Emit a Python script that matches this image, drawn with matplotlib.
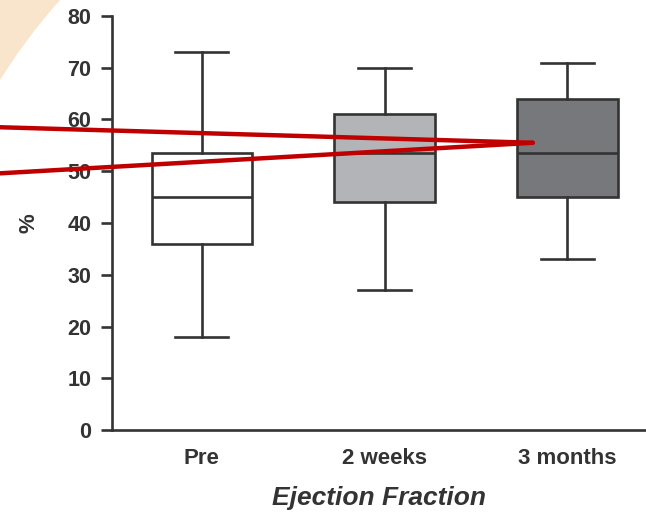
import numpy as np
import matplotlib
matplotlib.use("Agg")
import matplotlib.pyplot as plt
from matplotlib.patches import Circle, Rectangle

# box plot stats
groups = ["Pre", "2 weeks", "3 months"]
whislo = [18, 27, 33]
q1 = [36, 44, 45]
med = [45, 53.5, 53.5]
q3 = [53.5, 61, 64]
whishi = [73, 70, 71]
box_colors = ["#ffffff", "#b3b4b7", "#77787c"]

# red pointer lines (data coords): two left ends and a common tip
ptr_left_x = -0.104
ptr_left_y = [58.5, 49.6]
ptr_tip = (2.81, 55.5)

plt.rcParams['font.family'] = ['Liberation Sans', 'DejaVu Sans']
plt.rcParams['font.weight'] = 'bold'
ink = "#333333"

fig = plt.figure(figsize=(6.46, 5.15), dpi=100)

# peach corner in the top-left of the slide background
fig.patches.append(Rectangle((0, 0), 1, 1, transform=fig.transFigure,
                             facecolor="#f8e5cb", edgecolor="none", zorder=-10))
fig.patches.append(Circle((500, 515 - 392.5), 589.6, transform=None,
                          facecolor="white", edgecolor="none", zorder=-9))

ax = fig.add_axes([0.1734, 0.165, 0.8266, 0.804])
ax.set_facecolor("none")

stats = []
for i in range(len(groups)):
    stats.append({"label": groups[i], "whislo": whislo[i], "q1": q1[i], "med": med[i],
                  "q3": q3[i], "whishi": whishi[i], "fliers": []})

bp = ax.bxp(stats, positions=[1, 2, 3], widths=0.55, patch_artist=True,
            showfliers=False,
            boxprops=dict(edgecolor=ink, linewidth=1.9),
            medianprops=dict(color=ink, linewidth=1.9),
            whiskerprops=dict(color=ink, linewidth=1.9),
            capprops=dict(color=ink, linewidth=1.9),
            capwidths=0.29)
for patch, c in zip(bp["boxes"], box_colors):
    patch.set_facecolor(c)

for y0 in ptr_left_y:
    ax.plot([ptr_left_x, ptr_tip[0]], [y0, ptr_tip[1]], color="#c00000",
            linewidth=3.2, solid_capstyle="round", clip_on=False, zorder=5)

ax.set_xlim(0.508, 3.43)
ax.set_ylim(0, 80)
ax.set_yticks(np.arange(0, 81, 10))
ax.spines["top"].set_visible(False)
ax.spines["right"].set_visible(False)
for s in ["left", "bottom"]:
    ax.spines[s].set_color(ink)
    ax.spines[s].set_linewidth(1.9)
ax.tick_params(axis="y", length=8, width=1.9, color=ink, pad=7, labelsize=15.5, labelcolor=ink)
ax.tick_params(axis="x", length=0, pad=13, labelsize=16, labelcolor=ink)
ax.set_xticklabels(groups)

ax.set_ylabel("%", fontsize=16, fontweight="bold", color=ink, labelpad=20)
ax.set_xlabel("Ejection Fraction", fontsize=19, fontweight="bold", style="italic",
              color=ink, labelpad=12)

fig.savefig("out.png", dpi=100)
